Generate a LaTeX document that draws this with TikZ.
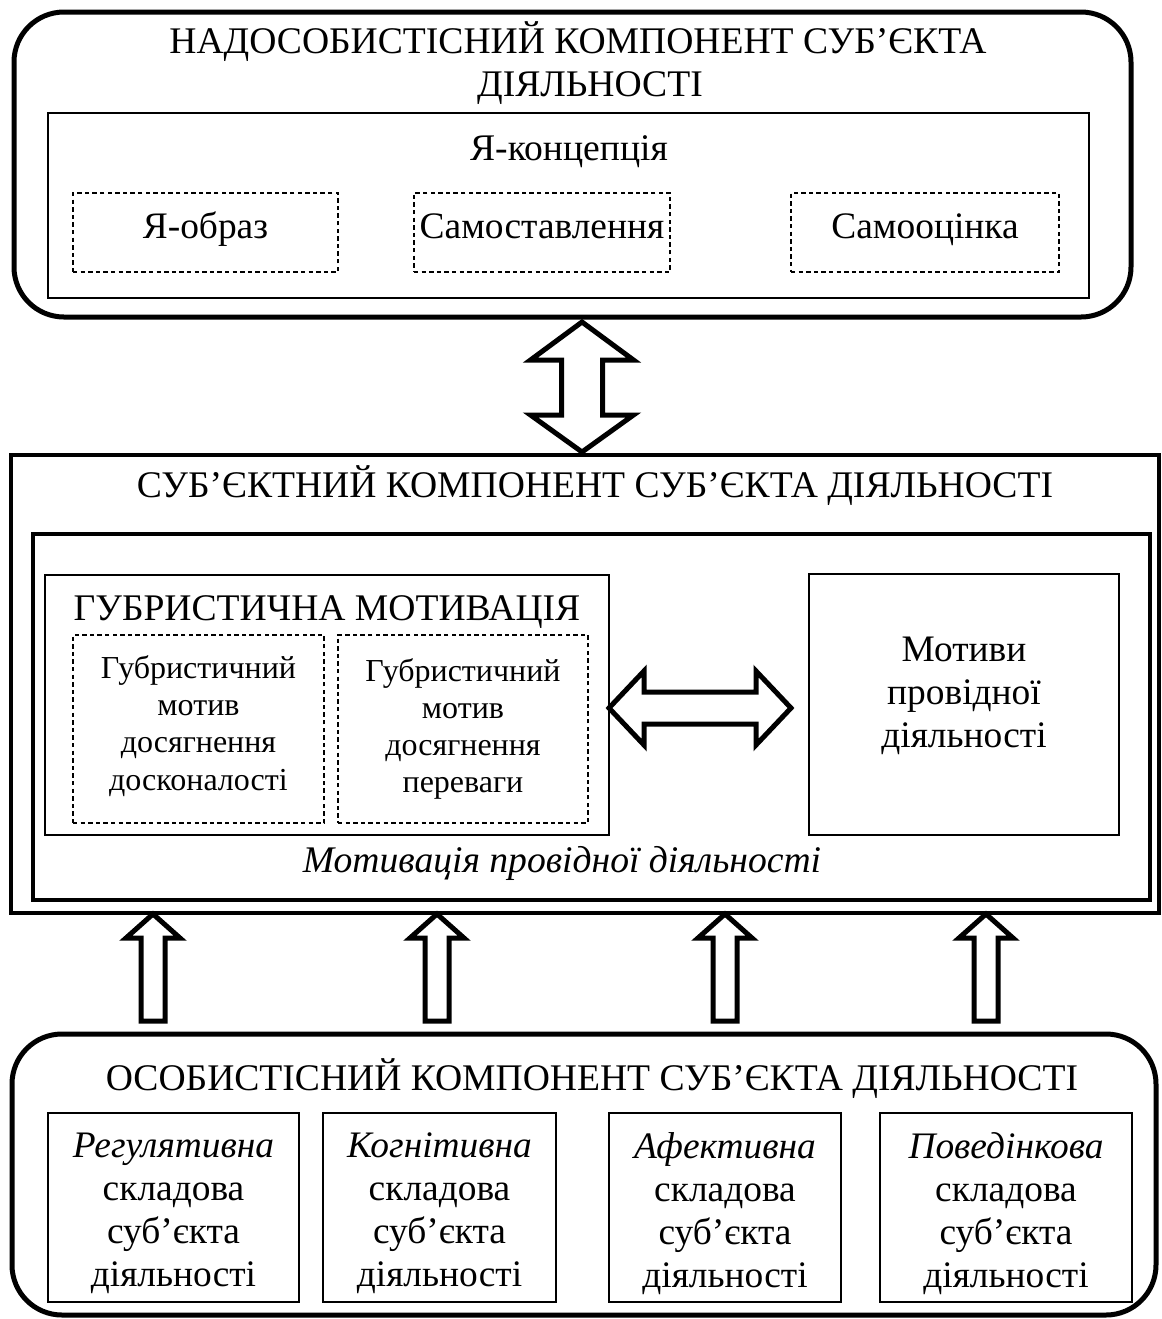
\documentclass[tikz,border=0pt]{standalone}
\usepackage{fontspec}
\setmainfont{Liberation Serif}
\usetikzlibrary{fit}
\begin{document}
\begin{tikzpicture}[x=0.5pt,y=-0.5pt,
    bigbox/.style={draw, line width=2.5pt, rounded corners=25pt, inner sep=0pt},
    framebox/.style={draw, line width=2.3pt, inner sep=0pt},
    plainbox/.style={draw, line width=0.7pt, inner sep=0pt},
    dashbox/.style={draw, line width=0.7pt, dash pattern=on 2.2pt off 1.6pt, inner sep=0pt},
    fatarrow/.style={draw, line width=2.5pt, fill=white, line join=miter},
    ttl/.style={anchor=base, inner sep=0pt, font=\fontsize{18.8}{22}\selectfont},
    bodytxt/.style={align=center, inner sep=0pt, font=\fontsize{18.7}{21.5}\selectfont},
    smalltxt/.style={align=center, inner sep=0pt, font=\fontsize{16}{18.6}\selectfont}]
    \useasboundingbox (0,0) rectangle (1162,1319);

    % top block
    \node[bigbox, fit={(14,12) (1131,317)}] (top) {};
    \node[ttl] (toptitle) at (578,53) {НАДОСОБИСТІСНИЙ КОМПОНЕНТ СУБ’ЄКТА};
    \node[ttl] (toptitleb) at (590,96) {ДІЯЛЬНОСТІ};
    \node[plainbox, fit={(48,113) (1089,298)}] (konc) {};
    \node[ttl] (konctitle) at (569,160) {Я-концепція};
    \node[dashbox, fit={(73,193) (338,272)}] (obraz) {};
    \node[ttl, font=\fontsize{18.7}{21.5}\selectfont] (obraztxt) at (obraz.center |- 0,238) {Я-образ};
    \node[dashbox, fit={(414,193) (670,272)}] (stavl) {};
    \node[ttl, font=\fontsize{18.7}{21.5}\selectfont] (stavltxt) at (stavl.center |- 0,238) {Самоставлення};
    \node[dashbox, fit={(791,193) (1059,272)}] (ocinka) {};
    \node[ttl, font=\fontsize{18.7}{21.5}\selectfont] (ocinkatxt) at (ocinka.center |- 0,238) {Самооцінка};

    % middle block
    \node[framebox, line width=2pt, fit={(11,455) (1159,913)}] (subj) {};
    \node[ttl] (subjtitle) at (595,497) {СУБ’ЄКТНИЙ КОМПОНЕНТ СУБ’ЄКТА ДІЯЛЬНОСТІ};
    \node[framebox, fit={(33,534) (1150,900)}] (motiv) {};
    \node[plainbox, fit={(45,575) (609,835)}] (gub) {};
    \node[ttl] (gubtitle) at (327,620) {ГУБРИСТИЧНА МОТИВАЦІЯ};
    \node[dashbox, fit={(73,635) (324,823)}] (dosk) {};
    \node[smalltxt] (dosktxt) at ([yshift=1.5pt]dosk.center) {Губристичний\\мотив\\досягнення\\досконалості};
    \node[dashbox, fit={(338,635) (588,823)}] (perev) {};
    \node[smalltxt] (perevtxt) at (perev.center) {Губристичний\\мотив\\досягнення\\переваги};
    \node[plainbox, fit={(809,574) (1119,835)}] (lead) {};
    \node[bodytxt] (leadtxt) at ([yshift=4.5pt]lead.center) {Мотиви\\провідної\\діяльності};
    \node[ttl, font=\fontsize{18.8}{22}\selectfont\itshape] (motivtitle) at (562,872) {Мотивація провідної діяльності};

    % bottom block
    \node[bigbox, fit={(12,1034) (1156,1315)}] (pers) {};
    \node[ttl] (perstitle) at (592,1090) {ОСОБИСТІСНИЙ КОМПОНЕНТ СУБ’ЄКТА ДІЯЛЬНОСТІ};
    \node[plainbox, fit={(48,1113) (299,1302)}] (reg) {};
    \node[bodytxt] (regtxt) at ([yshift=-3pt]reg.center) {\textit{Регулятивна}\\складова\\суб’єкта\\діяльності};
    \node[plainbox, fit={(323,1113) (556,1302)}] (kogn) {};
    \node[bodytxt] (kogntxt) at ([yshift=-3pt]kogn.center) {\textit{Когнітивна}\\складова\\суб’єкта\\діяльності};
    \node[plainbox, fit={(609,1113) (841,1302)}] (afek) {};
    \node[bodytxt] (afektxt) at ([yshift=-3pt]afek.center) {\textit{Афективна}\\складова\\суб’єкта\\діяльності};
    \node[plainbox, fit={(880,1113) (1132,1302)}] (poved) {};
    \node[bodytxt] (povedtxt) at ([yshift=-3pt]poved.center) {\textit{Поведінкова}\\складова\\суб’єкта\\діяльності};

    % block arrows
    \draw[fatarrow] (582,322) -- (633.5,360) -- (602.5,360) -- (602.5,415) -- (633.5,415)
        -- (582,452) -- (530.5,415) -- (561.5,415) -- (561.5,360) -- (530.5,360) -- cycle;
    \draw[fatarrow] (609,708) -- (644,671) -- (644,692) -- (756,692) -- (756,671) -- (791,708)
        -- (756,745) -- (756,724) -- (644,724) -- (644,745) -- cycle;
    \foreach \xa in {153,437,725,986}
        \draw[fatarrow] ({\xa-12},1021) -- ({\xa-12},938) -- ({\xa-27},938) -- (\xa,914)
            -- ({\xa+27},938) -- ({\xa+12},938) -- ({\xa+12},1021) -- cycle;
\end{tikzpicture}
\end{document}
